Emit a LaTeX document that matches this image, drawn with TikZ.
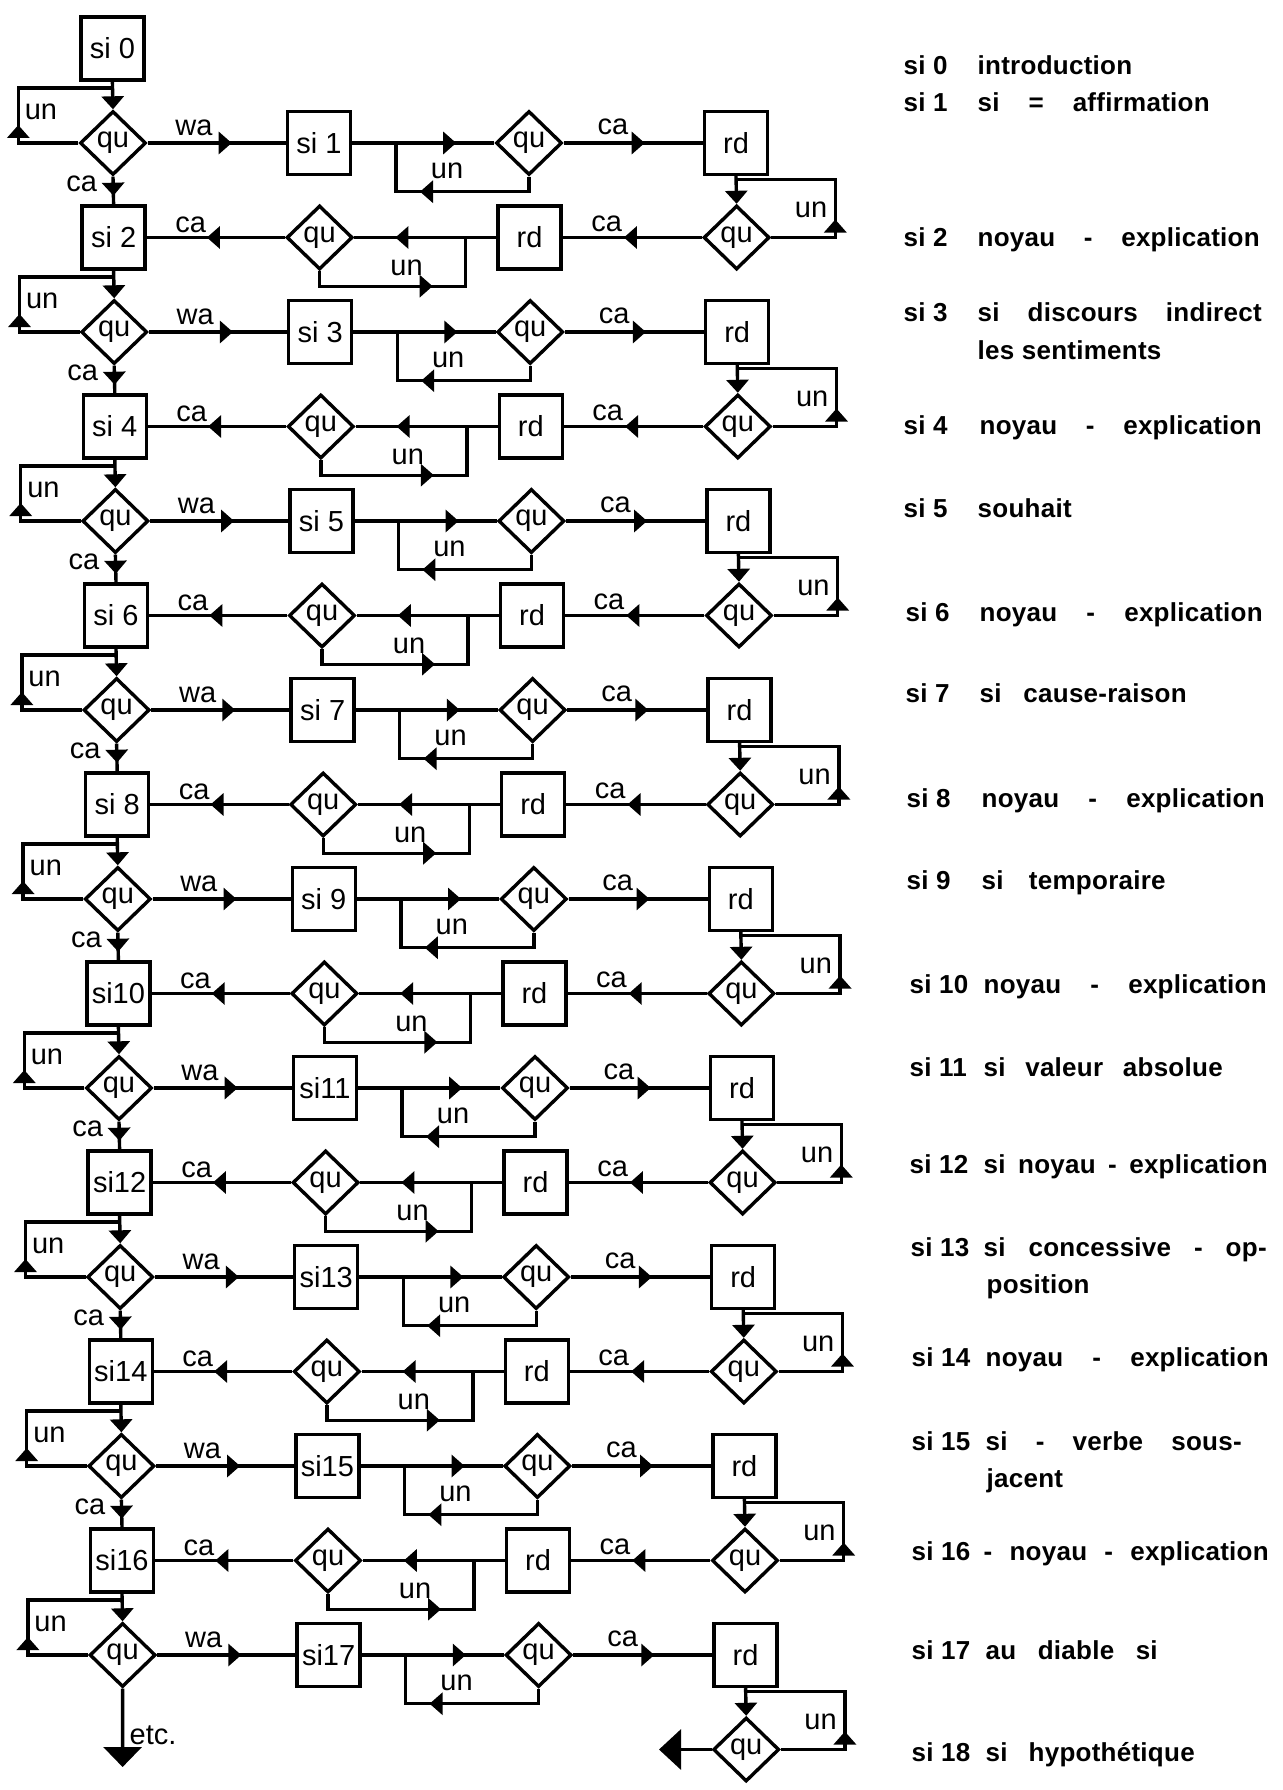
\documentclass[tikz,border=0pt]{standalone}
\usepackage{fontspec}
\setmainfont{Liberation Sans}
\newfontfamily\descfont[LetterSpace=1]{Liberation Sans Bold}
\usetikzlibrary{shapes.geometric,arrows.meta,decorations.markings}
\newcommand\silab[1]{\ifnum#1<10 si #1\else si#1\fi}
\newcommand\dl[5]{%
  \node[dtext] (l-#3) at (#1,#2+9) {si #3};
  \node[dtext] (d-#3) at (#4,#2+9) {#5};}
\begin{document}
\begin{tikzpicture}[x=1pt,y=-1pt,line width=3.4pt,
  box/.style={draw,rectangle,minimum width=63pt,minimum height=63pt,inner sep=0pt,
    font=\fontsize{29}{30}\selectfont},
  dia/.style={draw,diamond,minimum width=66pt,minimum height=64pt,inner sep=0pt,
    font=\fontsize{29}{30}\selectfont},
  lab/.style={inner sep=0pt,font=\fontsize{29}{30}\selectfont},
  dtext/.style={inner sep=0pt,anchor=base west,
    font=\descfont\fontsize{26}{28}\selectfont},
  endarr/.style={-{Triangle[width=22pt,length=13pt]}},
  marr/.style={postaction={decorate,decoration={markings,
    mark=at position #1 with {\arrow{Triangle[width=22pt,length=13pt]}}}}}]
\useasboundingbox (0,0) rectangle (1282,1790);

% ---------- nodes ----------
\foreach \k in {0,...,18} {
  \pgfmathsetmacro\y{143+94.5*(\k-1)}
  \pgfmathsetmacro\dx{0.6*(\k-1)}
  \ifnum\k=0
    \node[box] (n-0-1) at (113+\dx,\y) {si 0};
  \else\ifnum\k=18
    \node[dia] (n-18-4) at (736+\dx,\y) {qu};
  \else\ifodd\k
    \node[dia] (n-\k-1) at (113+\dx,\y) {qu};
    \node[box] (n-\k-2) at (319+\dx,\y) {\silab{\k}};
    \node[dia] (n-\k-3) at (529+\dx,\y) {qu};
    \node[box] (n-\k-4) at (736+\dx,\y) {rd};
  \else
    \node[box] (n-\k-1) at (113+\dx,\y) {\silab{\k}};
    \node[dia] (n-\k-2) at (319+\dx,\y) {qu};
    \node[box] (n-\k-3) at (529+\dx,\y) {rd};
    \node[dia] (n-\k-4) at (736+\dx,\y) {qu};
  \fi\fi\fi
}

% ---------- connectors ----------
\foreach \k in {1,...,17} {
  \pgfmathtruncatemacro\j{\k-1}
  \pgfmathtruncatemacro\i{\k+1}
  \pgfmathsetmacro\y{143+94.5*(\k-1)}
  \pgfmathsetmacro\dx{0.6*(\k-1)}
  \ifodd\k
    \coordinate (jl-\k) at (113+\dx,\y-55);
    \draw[endarr] (n-\j-1.south) -- (n-\k-1.north);
    \draw[marr=78pt] (n-\k-1.west) -- ++(-60,0) |- (jl-\k);
    \node[lab] (ul-\k) at (41+\dx,\y-31) {un};
    \draw[marr=84pt] (n-\k-1.east) -- (n-\k-2.west);
    \node[lab] (wa-\k) at (194+\dx,\y-15) {wa};
    \coordinate (jm-\k) at (396+\dx,\y);
    \draw[marr=104pt] (n-\k-2.east) -- (n-\k-3.west);
    \draw[marr=124pt] (n-\k-3.south) -- ++(0,15) -| (jm-\k);
    \node[lab] (um-\k) at (447+\dx,\y+28) {un};
    \draw[marr=81pt] (n-\k-3.east) -- (n-\k-4.west);
    \node[lab] (cr-\k) at (613+\dx,\y-16) {ca};
    \pgfmathsetmacro\yi{\y+94.5}
    \coordinate (jr-\i) at (736.6+\dx,\yi-58);
    \draw[endarr] (n-\k-4.south) -- (n-\i-4.north);
    \draw[marr=82pt] (n-\i-4.east) -- ++(64,0) |- (jr-\i);
    \node[lab] (ur-\i) at (811+\dx,\yi-28) {un};
  \else
    \draw[marr=19pt] (n-\j-1.south) -- (n-\k-1.north);
    \node[lab] (cv-\k) at (81+\dx,\y-53.5) {ca};
    \draw[marr=78pt] (n-\k-4.west) -- (n-\k-3.east);
    \node[lab] (cr-\k) at (606+\dx,\y-14) {ca};
    \coordinate (jm-\k) at (465+\dx,\y);
    \draw[marr=101pt] (n-\k-3.west) -- (n-\k-2.east);
    \draw[marr=128pt] (n-\k-2.south) -- ++(0,15) -| (jm-\k);
    \node[lab] (um-\k) at (406+\dx,\y+30) {un};
    \draw[marr=78pt] (n-\k-2.west) -- (n-\k-1.east);
    \node[lab] (cl-\k) at (190+\dx,\y-13) {ca};
  \fi
}

% ---------- ends ----------
\coordinate (etcend) at (122.6,1767);
\draw[-{Triangle[width=38pt,length=20pt]}] (n-17-1.south) -- (etcend);
\node[lab,anchor=west] (etc) at (128,1735) {etc.};
\coordinate (fin) at (659,1749.5);
\draw[-{Triangle[width=40pt,length=22pt]}] (n-18-4.west) -- (fin);

% ---------- legend ----------
\dl{902}{66}{0}{976}{introduction}
\dl{902}{103}{1}{976}{\makebox[232pt][s]{si = affirmation}}
\dl{902}{237}{2}{976}{\makebox[282pt][s]{noyau - explication}}
\dl{902}{312}{3}{976}{\makebox[284pt][s]{si discours indirect}}
\node[dtext] (d-3b) at (976,359) {les sentiments};
\dl{902}{425}{4}{978}{\makebox[282pt][s]{noyau - explication}}
\dl{902}{508}{5}{976}{souhait}
\dl{904}{612}{6}{978}{\makebox[283pt][s]{noyau - explication}}
\dl{904}{693}{7}{978}{\makebox[207pt][s]{si cause-raison}}
\dl{905}{798}{8}{980}{\makebox[283pt][s]{noyau - explication}}
\dl{905}{880}{9}{980}{\makebox[184pt][s]{si temporaire}}
\dl{908}{984}{10}{982}{\makebox[283pt][s]{noyau - explication}}
\dl{908}{1067}{11}{982}{\makebox[239pt][s]{si valeur absolue}}
\dl{908}{1164}{12}{982}{\makebox[284pt][s]{si noyau - explication}}
\dl{909}{1247}{13}{982}{\makebox[283pt][s]{si concessive - op-}}
\node[dtext] (d-13b) at (985,1293) {position};
\dl{910}{1357}{14}{984}{\makebox[283pt][s]{noyau - explication}}
\dl{910}{1441}{15}{984}{\makebox[256pt][s]{si - verbe sous-}}
\node[dtext] (d-15b) at (985,1487) {jacent};
\dl{910}{1551}{16}{982}{\makebox[285pt][s]{- noyau - explication}}
\dl{910}{1650}{17}{984}{\makebox[172pt][s]{au diable si}}
\dl{910}{1752}{18}{984}{\makebox[209pt][s]{si hypothétique}}
\end{tikzpicture}
\end{document}
